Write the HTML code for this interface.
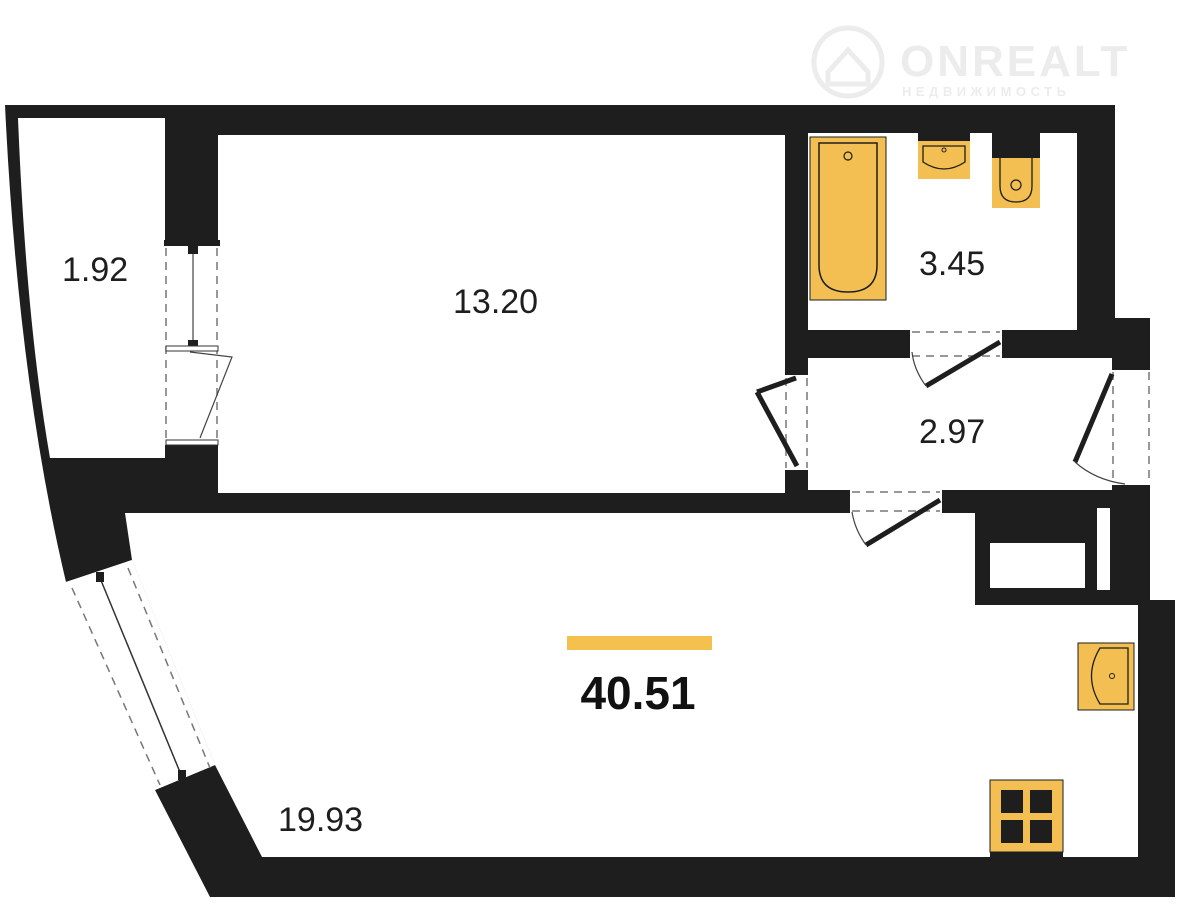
<!DOCTYPE html>
<html><head><meta charset="utf-8"><style>
html,body{margin:0;padding:0;background:#fff;width:1180px;height:910px;overflow:hidden}
svg{display:block}
text{font-family:"Liberation Sans","DejaVu Sans",sans-serif}
</style></head><body>
<svg width="1180" height="910" viewBox="0 0 1180 910" xmlns="http://www.w3.org/2000/svg">
<rect width="1180" height="910" fill="#fff"/>
<g fill="none" stroke="#ececec" stroke-width="5">
<circle cx="848" cy="62" r="34"/>
<path d="M828,72 L848,50 L868,72 L868,84 L828,84 Z"/>
</g>
<text x="900" y="76" font-size="44" font-weight="bold" fill="#ececec" letter-spacing="3">ONREALT</text>
<text x="902" y="96" font-size="13" font-weight="bold" fill="#ececec" letter-spacing="4.5">НЕДВИЖИМОСТЬ</text>

<path d="M5,105 L1115,105 L1115,318 L1150,318 L1150,600 L1175,600 L1175,897 L210,897 L155,790 L215,765 L132,560 L66,582 Q18,380 5,105 Z" fill="#1e1e1e"/>

<g fill="#fff">
<path d="M18,118 L165,118 L165,458 L50,458 Q26,320 18,118 Z"/>
<rect x="218" y="135" width="567" height="358"/>
<rect x="808" y="133" width="269" height="197"/>
<rect x="808" y="358" width="304" height="132"/>
<rect x="1112" y="370" width="40" height="115"/>
<path d="M125,513 L975,513 L975,605 L1138,605 L1138,857 L262,857 L215,765 L132,560 Z"/>
<rect x="990" y="543" width="95" height="45"/>
<rect x="1097" y="508" width="13" height="82"/>
<rect x="165" y="245" width="53" height="200"/>
<rect x="785" y="375" width="23" height="95"/>
<rect x="910" y="330" width="92" height="28"/>
<rect x="850" y="490" width="92" height="23"/>
<path d="M66,582 L132,560 L215,765 L155,790 Z"/>
</g>

<g stroke="#777" stroke-width="1.5" stroke-dasharray="8,6" fill="none">
<line x1="166" y1="248" x2="166" y2="444"/><line x1="217" y1="248" x2="217" y2="444"/>
<line x1="786" y1="378" x2="786" y2="468"/><line x1="807" y1="378" x2="807" y2="468"/>
<line x1="912" y1="332" x2="1000" y2="332"/><line x1="912" y1="356" x2="1000" y2="356"/>
<line x1="852" y1="492" x2="940" y2="492"/><line x1="852" y1="511" x2="940" y2="511"/>
<line x1="1113" y1="372" x2="1113" y2="483"/><line x1="1149" y1="372" x2="1149" y2="483"/>
<line x1="72" y1="588" x2="160" y2="785"/><line x1="128" y1="568" x2="210" y2="768"/>
</g>
<line x1="100" y1="578" x2="182" y2="777" stroke="#333" stroke-width="1.5"/>
<g fill="#1e1e1e">
<rect x="96" y="572" width="8" height="10"/>
<rect x="178" y="770" width="8" height="10"/>
</g>

<g stroke="#1e1e1e" stroke-width="5" fill="none">
<line x1="1112" y1="374" x2="1075" y2="462"/>
<line x1="1000" y1="342" x2="926" y2="386"/>
<line x1="940" y1="500" x2="866" y2="545"/>
<line x1="796" y1="378" x2="757" y2="392"/>
<line x1="757" y1="392" x2="797" y2="466"/>
</g>
<g stroke="#444" stroke-width="1.2" fill="none">
<path d="M1075,462 Q1095,480 1125,484"/>
<path d="M926,386 Q914,370 912,352"/>
<path d="M866,545 Q855,530 852,512"/>
<line x1="193" y1="250" x2="193" y2="342"/>
<path d="M190,352 L232,357 L200,438"/>
</g>
<g fill="#1e1e1e">
<rect x="164" y="240" width="56" height="6"/>
<rect x="188" y="246" width="10" height="8"/>
<rect x="188" y="340" width="10" height="8"/>
<rect x="166" y="346" width="52" height="5" fill="#fff" stroke="#333"/>
<rect x="166" y="440" width="52" height="5" fill="#fff" stroke="#333"/>
</g>

<rect x="810" y="137" width="76" height="163" fill="#f3bf52" stroke="#1e1e1e" stroke-width="1"/>
<path d="M819,143 L877,143 L877,265 Q877,292 848,292 Q819,292 819,265 Z" fill="none" stroke="#1e1e1e" stroke-width="1.5"/>
<circle cx="848" cy="156" r="4" fill="none" stroke="#1e1e1e" stroke-width="1.2"/>
<rect x="918" y="133" width="52" height="8" fill="#1e1e1e"/>
<rect x="918" y="141" width="52" height="38" fill="#f3bf52"/>
<path d="M923,146 L965,146 L965,162 Q944,176 923,162 Z" fill="none" stroke="#1e1e1e" stroke-width="1.3"/>
<circle cx="944" cy="150" r="2" fill="none" stroke="#1e1e1e"/>
<rect x="992" y="133" width="48" height="25" fill="#1e1e1e"/>
<rect x="992" y="158" width="48" height="50" fill="#f3bf52"/>
<path d="M1000,158 L1000,186 Q1000,202 1016,202 Q1032,202 1032,186 L1032,158" fill="none" stroke="#1e1e1e" stroke-width="1.3"/>
<circle cx="1016" cy="185" r="5" fill="none" stroke="#1e1e1e" stroke-width="1.2"/>
<rect x="1078" y="643" width="56" height="67" fill="#f3bf52" stroke="#1e1e1e" stroke-width="1"/>
<path d="M1128,648 L1100,648 Q1083,676 1100,704 L1128,704 Z" fill="none" stroke="#1e1e1e" stroke-width="1.3"/>
<circle cx="1112" cy="676" r="2.5" fill="none" stroke="#1e1e1e"/>
<rect x="990" y="780" width="73" height="72" fill="#f3bf52" stroke="#1e1e1e" stroke-width="1"/>
<rect x="990" y="852" width="73" height="6" fill="#1e1e1e"/>
<g fill="#1e1e1e">
<rect x="1001" y="790" width="22" height="23"/><rect x="1030" y="790" width="22" height="23"/>
<rect x="1001" y="820" width="22" height="23"/><rect x="1030" y="820" width="22" height="23"/>
</g>

<g fill="#1e1e1e" font-size="34">
<text x="62" y="281">1.92</text>
<text x="453" y="313">13.20</text>
<text x="919" y="275">3.45</text>
<text x="919" y="443">2.97</text>
<text x="278" y="831">19.93</text>
</g>
<rect x="567" y="636" width="145" height="14" fill="#f4c04e"/>
<text x="638" y="709" font-size="46" font-weight="bold" fill="#111" text-anchor="middle">40.51</text>
</svg>
</body></html>
